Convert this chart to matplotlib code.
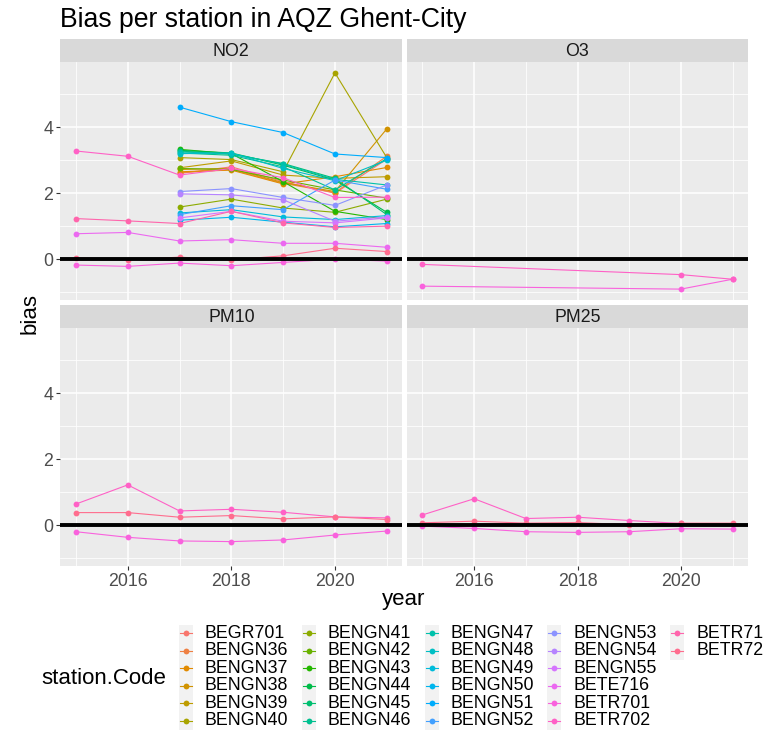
import numpy as np
import matplotlib.pyplot as plt
from matplotlib.patches import Rectangle
from matplotlib.lines import Line2D
from matplotlib.ticker import FixedLocator

plt.rcParams['font.family'] = ['Liberation Sans', 'DejaVu Sans']

# ---- data -------------------------------------------------------------------
years = [2015, 2016, 2017, 2018, 2019, 2020, 2021]
stations = ["BEGR701", "BENGN36", "BENGN37", "BENGN38", "BENGN39", "BENGN40",
            "BENGN41", "BENGN42", "BENGN43", "BENGN44", "BENGN45", "BENGN46",
            "BENGN47", "BENGN48", "BENGN49", "BENGN50", "BENGN51", "BENGN52",
            "BENGN53", "BENGN54", "BENGN55", "BETE716", "BETR701", "BETR702",
            "BETR71", "BETR72"]
pollutants = ["NO2", "O3", "PM10", "PM25"]
N = None

no2_bias = {
    "BEGR701": [N, N, 2.60, 2.80, 2.35, 2.00, 3.03],
    "BENGN36": [N, N, 2.62, 2.72, 2.30, 2.02, 3.12],
    "BENGN37": [N, N, 2.65, 2.70, 2.28, 2.50, 2.78],
    "BENGN38": [N, N, 2.72, 2.75, 2.32, 2.05, 3.95],
    "BENGN39": [N, N, 2.77, 2.98, 2.55, 2.45, 2.50],
    "BENGN40": [N, N, 3.08, 3.02, 2.65, 5.65, 3.08],
    "BENGN41": [N, N, 1.58, 1.82, 1.55, 1.42, 1.82],
    "BENGN42": [N, N, 2.75, 2.72, 2.40, 2.10, 1.85],
    "BENGN43": [N, N, 3.33, 3.20, 2.35, 1.45, 1.20],
    "BENGN44": [N, N, 3.30, 3.22, 2.85, 2.40, 1.42],
    "BENGN45": [N, N, 3.28, 3.18, 2.90, 2.45, 1.35],
    "BENGN46": [N, N, 3.22, 3.15, 2.80, 2.10, 3.05],
    "BENGN47": [N, N, 3.25, 3.20, 2.88, 2.42, 2.25],
    "BENGN48": [N, N, 3.20, 3.22, 2.75, 2.38, 3.00],
    "BENGN49": [N, N, 1.40, 1.50, 1.28, 1.20, 1.32],
    "BENGN50": [N, N, 1.18, 1.27, 1.12, 0.98, 1.08],
    "BENGN51": [N, N, 4.61, 4.17, 3.84, 3.19, 3.08],
    "BENGN52": [N, N, 1.35, 1.62, 1.50, 2.40, 2.12],
    "BENGN53": [N, N, 2.05, 2.14, 1.87, 1.63, 2.25],
    "BENGN54": [N, N, 1.98, 1.95, 1.80, 1.15, 1.28],
    "BENGN55": [N, N, 1.25, 1.45, 1.15, 1.10, 1.25],
    "BETE716": [0.77, 0.81, 0.55, 0.59, 0.48, 0.48, 0.36],
    "BETR701": [-0.18, -0.22, -0.12, -0.20, -0.10, 0.00, -0.06],
    "BETR702": [3.28, 3.12, 2.55, 2.75, 2.47, 1.87, 1.88],
    "BETR71": [1.23, 1.16, 1.08, 1.45, 1.10, 0.96, 1.00],
    "BETR72": [0.04, -0.02, 0.06, -0.02, 0.10, 0.33, 0.23],
}
o3_bias = {
    "BETR701": [-0.82, N, N, N, N, -0.91, -0.61],
    "BETR702": [-0.16, N, N, N, N, -0.47, -0.61],
}
pm10_bias = {
    "BETR701": [-0.20, -0.37, -0.48, -0.50, -0.45, -0.30, -0.18],
    "BETR702": [0.64, 1.22, 0.43, 0.48, 0.39, 0.25, 0.22],
    "BETR72": [0.38, 0.38, 0.24, 0.29, 0.19, 0.25, 0.17],
}
pm25_bias = {
    "BETR701": [-0.03, -0.10, -0.20, -0.22, -0.20, -0.11, -0.12],
    "BETR702": [0.31, 0.80, 0.20, 0.24, 0.14, 0.05, 0.04],
    "BETR72": [0.07, 0.12, 0.06, 0.08, 0.01, 0.06, 0.06],
}
panel_data = {"NO2": no2_bias, "O3": o3_bias, "PM10": pm10_bias, "PM25": pm25_bias}


# ---- ggplot-like hue palette ------------------------------------------------
def hue_colours(n, l=65.0, c=100.0):
    h = np.deg2rad(15 + 360 * np.arange(n) / n)
    u, v = c * np.cos(h), c * np.sin(h)
    Xn, Yn, Zn = 95.047, 100.0, 108.883
    den = Xn + 15 * Yn + 3 * Zn
    un, vn = 4 * Xn / den, 9 * Yn / den
    Y = Yn * ((l + 16) / 116) ** 3
    up, vp = u / (13 * l) + un, v / (13 * l) + vn
    X = Y * 9 * up / (4 * vp)
    Z = Y * (12 - 3 * up - 20 * vp) / (4 * vp)
    M = np.array([[3.2404542, -1.5371385, -0.4985314],
                  [-0.9692660, 1.8760108, 0.0415560],
                  [0.0556434, -0.2040259, 1.0572252]])
    rgb = M @ np.vstack([X, np.full_like(X, Y), Z]) / 100
    rgb = np.clip(rgb, 0, None)
    rgb = np.where(rgb <= 0.0031308, 12.92 * rgb, 1.055 * rgb ** (1 / 2.4) - 0.055)
    return np.clip(rgb.T, 0, 1)


colours = dict(zip(stations, hue_colours(len(stations))))

# ---- layout (pixels) --------------------------------------------------------
W, H = 777, 731
fig = plt.figure(figsize=(W / 100, H / 100), dpi=100)


def px_axes(x0, y0, x1, y1, **kw):
    return fig.add_axes([x0 / W, 1 - y1 / H, (x1 - x0) / W, (y1 - y0) / H], **kw)


cols = [(60.4, 402.3), (407.0, 748.0)]
rows = [(62.0, 300.0), (328.0, 566.0)]
strip_h = 23

for k, pol in enumerate(pollutants):
    r, c = divmod(k, 2)
    (x0, x1), (y0, y1) = cols[c], rows[r]
    ax = px_axes(x0, y0, x1, y1)
    ax.set_facecolor("#EBEBEB")
    for s in ax.spines.values():
        s.set_visible(False)

    for st, vals in panel_data[pol].items():
        xs = [yr for yr, v in zip(years, vals) if v is not None]
        ys = [v for v in vals if v is not None]
        ax.plot(xs, ys, "-o", color=colours[st], lw=0.8, ms=4.2, mew=0, zorder=3)
    ax.axhline(0, color="black", lw=2.8, zorder=4)

    ax.set_xlim(2014.7, 2021.3)
    ax.set_ylim(-1.24, 5.98)
    ax.xaxis.set_major_locator(FixedLocator([2016, 2018, 2020]))
    ax.xaxis.set_minor_locator(FixedLocator([2015, 2017, 2019, 2021]))
    ax.yaxis.set_major_locator(FixedLocator([0, 2, 4]))
    ax.yaxis.set_minor_locator(FixedLocator([-1, 1, 3, 5]))
    ax.grid(which="major", color="white", lw=1.1)
    ax.grid(which="minor", color="white", lw=0.55)
    ax.set_axisbelow(True)
    ax.tick_params(which="minor", length=0)
    ax.tick_params(which="major", length=3, width=0.8, color="#333333",
                   labelsize=12.8, labelcolor="#4D4D4D", pad=2)
    if c == 1:
        ax.tick_params(axis="y", which="major", length=0, labelleft=False)
    if r == 0:
        ax.tick_params(axis="x", which="major", length=0, labelbottom=False)

    sax = px_axes(x0, y0 - strip_h, x1, y0)
    sax.set_facecolor("#D9D9D9")
    sax.set_xticks([])
    sax.set_yticks([])
    for s in sax.spines.values():
        s.set_visible(False)
    sax.text(0.5, 0.45, pol, ha="center", va="center", fontsize=12.8,
             color="#1A1A1A", transform=sax.transAxes)

# ---- titles -----------------------------------------------------------------
fig.text(60 / W, 1 - 20 / H, "Bias per station in AQZ Ghent-City",
         fontsize=19.2, ha="left", va="center")
fig.text(404 / W, 1 - 600 / H, "year", fontsize=16, ha="center", va="center")
fig.text(30 / W, 1 - 314 / H, "bias", fontsize=16, ha="center", va="center",
         rotation=90)

# ---- legend -----------------------------------------------------------------
fig.text(41 / W, 1 - 678 / H, "station.Code", fontsize=16, ha="left", va="center")
key_x0, col_step = 186.0, 122.8
row_y0, row_step = 633.3, 17.5
for i, st in enumerate(stations):
    cc, rr = divmod(i, 6)
    kx = key_x0 + cc * col_step
    ky = row_y0 + rr * row_step
    fig.patches.append(Rectangle(((kx - 7) / W, 1 - (ky + 8.75) / H), 14 / W, 17.5 / H,
                                 transform=fig.transFigure, facecolor="#F2F2F2",
                                 edgecolor="none"))
    fig.lines.append(Line2D([(kx - 6) / W, (kx + 6) / W], [1 - ky / H] * 2,
                            transform=fig.transFigure, color=colours[st], lw=0.8,
                            marker="o", markevery=[], zorder=3))
    fig.lines.append(Line2D([kx / W], [1 - ky / H], transform=fig.transFigure,
                            color=colours[st], marker="o", ms=4.2, mew=0, lw=0,
                            zorder=3))
    fig.text((kx + 19) / W, 1 - ky / H, st, fontsize=12.8, ha="left", va="center")

fig.savefig("out.png", dpi=100)
